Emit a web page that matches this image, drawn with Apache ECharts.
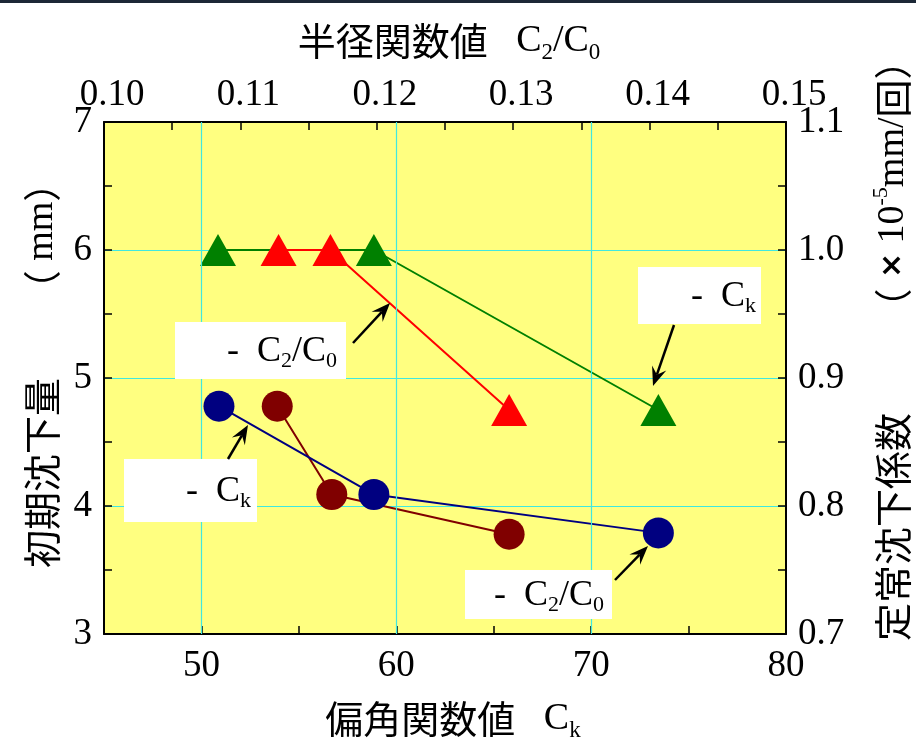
<!DOCTYPE html>
<html><head><meta charset="utf-8">
<script src="https://cdn.jsdelivr.net/npm/echarts@6/dist/echarts.min.js"></script>
<style>html,body{margin:0;padding:0;background:#fff}#c{width:916px;height:753px}</style>
</head><body><div id="c"></div>
<script>
// ---- data ----
const greenCk = [50.85, 58.85, 73.45];      // 偏角関数値 Ck (bottom axis)
const greenCoef = [1.0, 1.0, 0.875];        // 定常沈下係数 (right axis)
const redC2C0 = [0.1128, 0.1166, 0.1297];   // 半径関数値 C2/C0 (top axis)
const redCoef = [1.0, 1.0, 0.875];
const blueCk = [50.9, 58.85, 73.45];
const blueSettle = [4.78, 4.09, 3.79];      // 初期沈下量 (left axis)
const brownC2C0 = [0.1127, 0.1167, 0.1297];
const brownSettle = [4.78, 4.09, 3.78];
const gridCk = [50, 60, 70];

const SERIF = 'Liberation Serif';
const CJK = 'Noto Sans CJK JP';
const zip = (a, b) => a.map((v, i) => [v, b[i]]);

const chart = echarts.init(document.getElementById('c'), null, {renderer: 'canvas'});

const tickStyle = {show: true, inside: true, length: 8, lineStyle: {color: '#000', width: 1.5}};
const minorStyle = {show: true, splitNumber: 2, length: 8, lineStyle: {color: '#000', width: 1.5}};
const lineAx = {show: true, onZero: false, lineStyle: {color: '#000', width: 2}};
const lab = {color: '#000', fontFamily: SERIF, fontSize: 37};

function arrow(x1, y1, x2, y2) {
  const dx = x2 - x1, dy = y2 - y1, L = Math.hypot(dx, dy);
  const ux = dx / L, uy = dy / L, px = -uy, py = ux;
  const hl = 19, hw = 7.5, notch = 12;
  const bx = x2 - ux * hl, by = y2 - uy * hl, nx = x2 - ux * notch, ny = y2 - uy * notch;
  return [
    {type: 'line', z: 100, shape: {x1, y1, x2: nx, y2: ny}, style: {stroke: '#000', lineWidth: 2.5}},
    {type: 'polygon', z: 100, shape: {points: [[x2, y2], [bx + px * hw, by + py * hw], [nx, ny], [bx - px * hw, by - py * hw]]}, style: {fill: '#000'}}
  ];
}
const boxRich = {
  m: {fontFamily: SERIF, fontSize: 36, lineHeight: 42, fill: '#000'},
  s: {fontFamily: SERIF, fontSize: 22, lineHeight: 22, verticalAlign: 'bottom', fill: '#000'}
};
function box(x, y, w, h, text, tx) {
  return [
    {type: 'rect', z: 90, shape: {x, y, width: w, height: h}, style: {fill: '#fff'}},
    {type: 'text', z: 95, x: tx, y: y + h / 2 + 1, style: {text, rich: boxRich, align: 'right', textAlign: 'right', verticalAlign: 'middle', textVerticalAlign: 'middle'}}
  ];
}
const titleRich = {
  c: {fontFamily: CJK, fontSize: 38, lineHeight: 46, fill: '#000'},
  m: {fontFamily: SERIF, fontSize: 38, lineHeight: 46, fill: '#000'},
  s: {fontFamily: SERIF, fontSize: 23, lineHeight: 23, verticalAlign: 'bottom', fill: '#000'},
  sup: {fontFamily: SERIF, fontSize: 22, lineHeight: 22, verticalAlign: 'top', fill: '#000'},
  x: {fontFamily: 'DejaVu Sans', fontSize: 30, fontWeight: 'bold', lineHeight: 46, fill: '#000'}
};
function title(x, y, text, rot) {
  return {type: 'text', z: 100, x, y, rotation: rot || 0,
    style: {text, rich: titleRich, align: 'center', textAlign: 'center', verticalAlign: 'middle', textVerticalAlign: 'middle'}};
}
const R = Math.PI / 2;

const graphics = [
  {type: 'rect', shape: {x: 0, y: 0, width: 916, height: 3}, style: {fill: '#1c2836'}},
  title(449, 41, '{c|半径関数値}{m|   C}{s|2}{m|/C}{s|0}'),
  title(453, 719, '{c|偏角関数値}{m|   C}{s|k}'),
  title(42, 473, '{c|初期沈下量}', R),
  title(42, 236, '{c|（}{m| mm}{c|）}', R),
  title(893, 527, '{c|定常沈下係数}', R),
  title(893, 184, '{c|（}{x| ×}{m| 10}{sup|-5}{m|mm/}{c|回}{c|）}', R),
  ...box(175, 322, 171, 57, '{m|-  C}{s|2}{m|/C}{s|0}', 337),
  ...arrow(353, 343, 390, 303),
  ...box(124, 459, 133, 63, '{m|-  C}{s|k}', 251),
  ...arrow(228, 459, 248, 425),
  ...box(638, 267, 123, 57, '{m|-  C}{s|k}', 756),
  ...arrow(674, 325, 653, 386),
  ...box(465, 570, 147, 49, '{m|-  C}{s|2}{m|/C}{s|0}', 604),
  ...arrow(615, 580, 648, 546)
];

const option = {
  animation: false,
  backgroundColor: '#fff',
  grid: {left: 104, right: 130, top: 122, bottom: 119, show: true, backgroundColor: '#FFFF80', borderWidth: 0},
  xAxis: [
    {type: 'value', position: 'bottom', min: 45, max: 80, interval: 5,
      axisLine: lineAx, axisTick: tickStyle, splitLine: {show: false},
      axisLabel: {...lab, margin: 14, formatter: v => (v % 10 === 0 && v > 45) ? String(v) : ''}},
    {type: 'value', position: 'top', min: 0.10, max: 0.15, interval: 0.01,
      axisLine: lineAx, axisTick: tickStyle, minorTick: minorStyle, splitLine: {show: false},
      axisLabel: {...lab, margin: 8, padding: [0, 0, 0, 16], formatter: v => v.toFixed(2)}}
  ],
  yAxis: [
    {type: 'value', position: 'left', min: 3, max: 7, interval: 1,
      axisLine: lineAx, axisTick: tickStyle, minorTick: minorStyle,
      splitLine: {show: true, lineStyle: {color: '#40E8E0', width: 1.2}},
      axisLabel: {...lab, margin: 12}},
    {type: 'value', position: 'right', min: 0.7, max: 1.1, interval: 0.1,
      axisLine: lineAx, axisTick: tickStyle, minorTick: minorStyle, splitLine: {show: false},
      axisLabel: {...lab, margin: 12, formatter: v => v.toFixed(1)}}
  ],
  series: [
    {type: 'line', xAxisIndex: 0, yAxisIndex: 0, data: [], z: 1, silent: true,
      markLine: {silent: true, symbol: 'none', label: {show: false}, animation: false,
        lineStyle: {color: '#40E8E0', width: 1.2, type: 'solid'},
        data: gridCk.map(v => ({xAxis: v}))}},
    {name: 'green', type: 'line', xAxisIndex: 0, yAxisIndex: 1, data: zip(greenCk, greenCoef),
      symbol: 'triangle', symbolSize: [36, 32], color: '#008000', itemStyle: {color: '#008000'},
      lineStyle: {color: '#008000', width: 2}, z: 3},
    {name: 'red', type: 'line', xAxisIndex: 1, yAxisIndex: 1, data: zip(redC2C0, redCoef),
      symbol: 'triangle', symbolSize: [36, 32], color: '#FF0000', itemStyle: {color: '#FF0000'},
      lineStyle: {color: '#FF0000', width: 2}, z: 3},
    {name: 'brown', type: 'line', xAxisIndex: 1, yAxisIndex: 0, data: zip(brownC2C0, brownSettle),
      symbol: 'circle', symbolSize: 31, color: '#800000', itemStyle: {color: '#800000'},
      lineStyle: {color: '#800000', width: 2}, z: 3},
    {name: 'blue', type: 'line', xAxisIndex: 0, yAxisIndex: 0, data: zip(blueCk, blueSettle),
      symbol: 'circle', symbolSize: 31, color: '#000080', itemStyle: {color: '#000080'},
      lineStyle: {color: '#000080', width: 2}, z: 3}
  ],
  graphic: graphics
};
chart.setOption(option);
</script></body></html>
